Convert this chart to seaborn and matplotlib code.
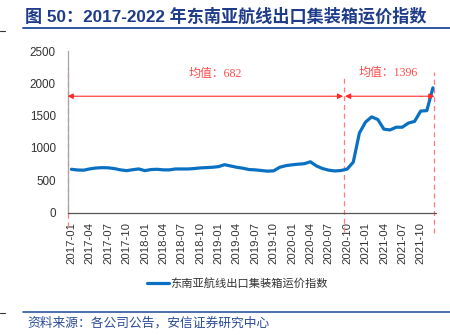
import matplotlib
matplotlib.use("Agg")
import matplotlib.pyplot as plt
import matplotlib.transforms as mtransforms
from matplotlib.lines import Line2D
import seaborn as sns
import pandas as pd

# ---------------- data ----------------
months = [f"{y}-{m:02d}" for y in range(2017, 2022) for m in range(1, 13)]
index_values = [
    669, 658, 655, 675, 689, 694, 692, 680, 660, 648, 662, 674,   # 2017
    648, 665, 669, 660, 660, 674, 674, 674, 680, 690, 695, 700,   # 2018
    710, 740, 720, 700, 685, 665, 660, 650, 640, 645, 700, 725,   # 2019
    738, 748, 755, 785, 720, 680, 655, 643, 650, 672, 780, 1230,  # 2020
    1400, 1480, 1440, 1290, 1278, 1320, 1320, 1385, 1410, 1570, 1577, 1930,  # 2021
]
tick_labels = months[::3]
series_name = "东南亚航线出口集装箱运价指数"
mean_labels = ["均值：682", "均值：1396"]
title_text = "图 50：2017-2022 年东南亚航线出口集装箱运价指数"
source_text = "资料来源：各公司公告，安信证券研究中心"

df = pd.DataFrame({"idx": range(len(months)), "month": months, "value": index_values})

# ---------------- style ----------------
sns.set_style("white")
plt.rcParams["font.family"] = ["Noto Sans CJK SC", "DejaVu Sans"]
plt.rcParams["axes.unicode_minus"] = False

W, H = 450, 335
fig = plt.figure(figsize=(4.5, 3.35), dpi=100)
ax = fig.add_axes([68.3 / W, 1 - 212.5 / H, (436 - 68.3) / W, (212.5 - 51) / H])

sns.lineplot(data=df, x="idx", y="value", ax=ax, color="#0A70C2", lw=2.3,
             label=series_name, legend=False, solid_capstyle="round")

ax.set_xlim(-0.5, len(months) - 0.5)
ax.set_ylim(0, 2500)
ax.set_yticks(range(0, 2501, 500))
ax.set_xticks(range(0, len(months), 3))
ax.set_xticklabels(tick_labels, rotation=90, fontsize=8.2, color="#333333",
                   family=["Liberation Sans", "DejaVu Sans"])
ax.set_xticks([i - 0.5 for i in range(0, len(months) + 1, 3)], minor=True)
ax.tick_params(axis="x", which="major", length=0, pad=6.5)
ax.tick_params(axis="x", which="minor", length=4, direction="in", width=0.8, color="#555555")
ax.tick_params(axis="y", length=3, direction="out", width=0.8, color="#888888",
               labelsize=8.4, labelcolor="#333333", pad=6)
for lab in ax.get_yticklabels():
    lab.set_family(["Liberation Sans", "DejaVu Sans"])
ax.set_xlabel("")
ax.set_ylabel("")
ax.grid(False)
for s in ["top", "right"]:
    ax.spines[s].set_visible(False)
ax.spines["left"].set_color("#A6A6A6")
ax.spines["left"].set_linewidth(0.9)
ax.spines["bottom"].set_color("#555555")
ax.spines["bottom"].set_linewidth(0.9)

# ---------------- annotations ----------------
trans = mtransforms.blended_transform_factory(ax.transData, ax.transAxes)
def yfrac(py):
    return (212.5 - py) / (212.5 - 51)

for xv, y0, y1 in [(-0.62, 68, 227), (44.5, 75, 232), (59.25, 72, 233)]:
    ax.plot([xv, xv], [yfrac(y1), yfrac(y0)], transform=trans, clip_on=False,
            color="#FF7C7C", lw=0.9, ls=(0, (4, 3)), zorder=1)

arrow_y = 1800
for xa, xb in [(-0.62, 44.35), (44.65, 59.25)]:
    ax.annotate("", xy=(xb, arrow_y), xytext=(xa, arrow_y),
                arrowprops=dict(arrowstyle="<|-|>", color="#FF2A2A", lw=0.8,
                                shrinkA=0, shrinkB=0, mutation_scale=8),
                annotation_clip=False, zorder=3)

ax.text(23.4, 2150, mean_labels[0], ha="center", va="center", fontsize=8.6,
        color="#FF4A4A", family=["Liberation Serif", "Noto Sans CJK SC"])
ax.text(51.7, 2165, mean_labels[1], ha="center", va="center", fontsize=8.6,
        color="#FF4A4A", family=["Liberation Serif", "Noto Sans CJK SC"])

# ---------------- legend ----------------
handle = Line2D([], [], color="#0A70C2", lw=2.3)
fig.legend([handle], [series_name], loc="center", bbox_to_anchor=(237.5 / W, 1 - 283 / H),
           frameon=False, fontsize=8.1, handlelength=1.9, handletextpad=0.15,
           labelcolor="#333333")

# ---------------- title, rules, source ----------------
fig.text(25 / W, 1 - 16 / H, title_text, ha="left", va="center", fontsize=12.3,
         fontweight="bold", color="#1E3C8A",
         family=["Liberation Sans", "Noto Sans CJK SC"])
fig.add_artist(Line2D([23 / W, 1], [1 - 28 / H, 1 - 28 / H], color="#2F56A0", lw=1.4))
fig.add_artist(Line2D([0, 5 / W], [1 - 31 / H, 1 - 31 / H], color="#333333", lw=0.8))
fig.add_artist(Line2D([23 / W, 1], [1 - 312 / H, 1 - 312 / H], color="#2F56A0", lw=1.2))
fig.add_artist(Line2D([0, 5 / W], [1 - 312.7 / H, 1 - 312.7 / H], color="#333333", lw=0.8))
fig.text(27 / W, 1 - 322.7 / H, source_text, ha="left", va="center", fontsize=9.2,
         color="#2A4C98")

fig.savefig("out.png", dpi=100)
